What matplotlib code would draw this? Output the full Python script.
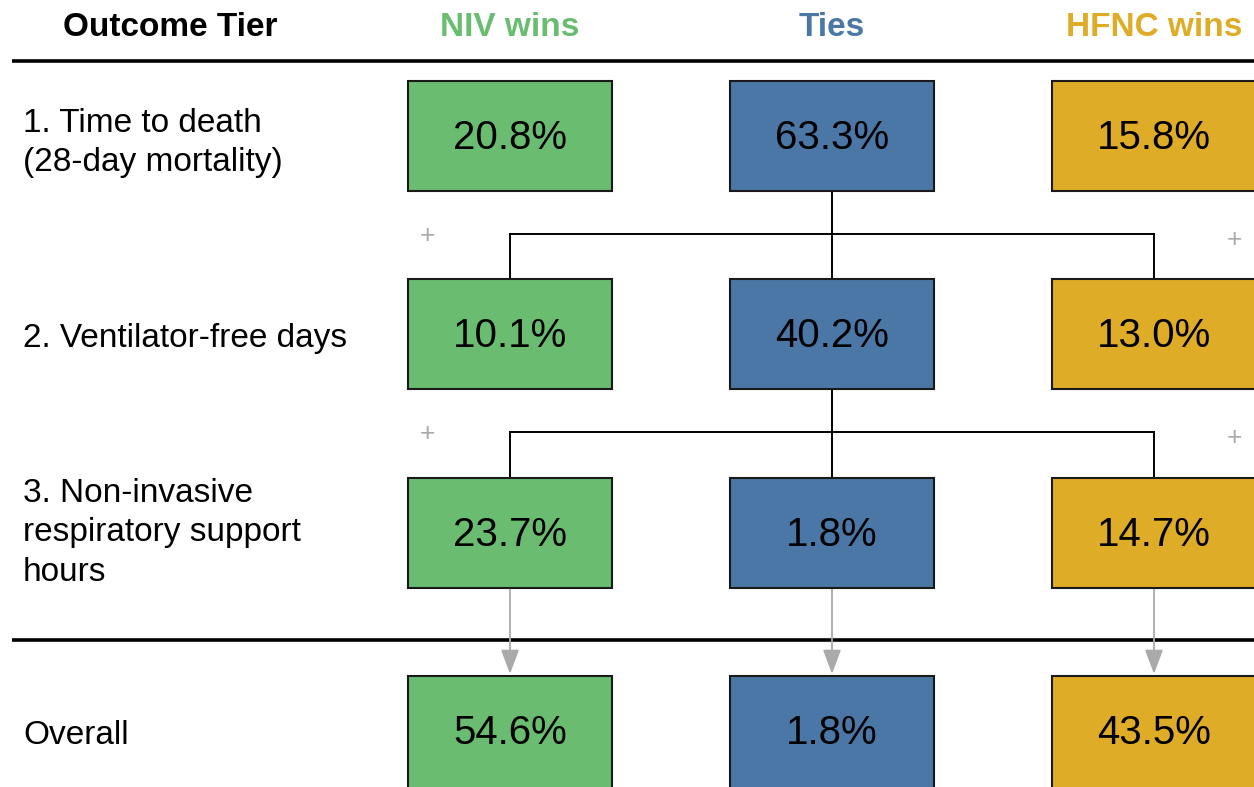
import matplotlib
matplotlib.use("Agg")
import matplotlib.pyplot as plt
from matplotlib.patches import Rectangle

plt.rcParams['font.family'] = ['Liberation Sans', 'DejaVu Sans']

# data
tiers = ["1. Time to death\n(28-day mortality)",
         "2. Ventilator-free days",
         "3. Non-invasive\nrespiratory support\nhours",
         "Overall"]
groups = ["NIV wins", "Ties", "HFNC wins"]
niv_wins = [20.8, 10.1, 23.7, 54.6]
ties = [63.3, 40.2, 1.8, 1.8]
hfnc_wins = [15.8, 13.0, 14.7, 43.5]

colors = ["#6abd70", "#4b77a7", "#dfac27"]

W, H = 1254, 787
fig = plt.figure(figsize=(W / 100, H / 100), dpi=100)
ax = fig.add_axes([0, 0, 1, 1])
ax.set_xlim(0, W)
ax.set_ylim(H, 0)
ax.axis("off")

# layout in pixel coords
col_x = [510, 832, 1154]
box_w, box_h = 204, 110
row_top = [81, 279, 478, 676]

# header
ax.text(170, 28, "Outcome Tier", ha="center", va="center",
        fontsize=24, fontweight="bold", color="black")
for x, g, c in zip(col_x, groups, colors):
    ax.text(x, 28, g, ha="center", va="center", fontsize=24,
            fontweight="bold", color=c)
ax.plot([12, W], [61, 61], color="black", lw=2.6, solid_capstyle="butt")
ax.plot([12, W], [640, 640], color="black", lw=2.6, solid_capstyle="butt")

# row labels
label_y = [143, 339, 533, 736]
for y, t in zip(label_y, tiers):
    ax.text(23, y, t, ha="left", va="center", fontsize=24,
            linespacing=1.35, color="black")

# boxes
series = [niv_wins, ties, hfnc_wins]
for ci, (vals, c) in enumerate(zip(series, colors)):
    for ri, v in enumerate(vals):
        x0 = col_x[ci] - box_w / 2
        y0 = row_top[ri]
        h = box_h if ri < 3 else box_h + 30
        ax.add_patch(Rectangle((x0, y0), box_w, h, facecolor=c,
                               edgecolor="#1a1a1a", lw=1.5, zorder=3))
        ax.text(col_x[ci], y0 + box_h / 2 + 2, f"{v:.1f}%", ha="center",
                va="center", fontsize=29, color="black", zorder=4)

# tie connectors
for ri in range(2):
    y_top = row_top[ri] + box_h
    y_bot = row_top[ri + 1]
    y_mid = y_top + 43
    ax.plot([col_x[1], col_x[1]], [y_top, y_bot], color="black", lw=1.4, zorder=2)
    ax.plot([col_x[0], col_x[2]], [y_mid, y_mid], color="black", lw=1.4, zorder=2)
    ax.plot([col_x[0], col_x[0]], [y_mid, y_bot], color="black", lw=1.4, zorder=2)
    ax.plot([col_x[2], col_x[2]], [y_mid, y_bot], color="black", lw=1.4, zorder=2)
    ax.text(427, y_mid + 2, "+", ha="center", va="center", fontsize=19,
            color="#aaaaaa")
    ax.text(1234, y_mid + 6, "+", ha="center", va="center", fontsize=19,
            color="#aaaaaa")

# arrows into overall
for x in col_x:
    ax.annotate("", xy=(x, row_top[3] - 2), xytext=(x, row_top[2] + box_h),
                arrowprops=dict(arrowstyle="-|>,head_length=0.75,head_width=0.28",
                                color="#aaaaaa", lw=1.3,
                                mutation_scale=20, shrinkA=0, shrinkB=0),
                zorder=2)

fig.savefig("out.png", dpi=100)
